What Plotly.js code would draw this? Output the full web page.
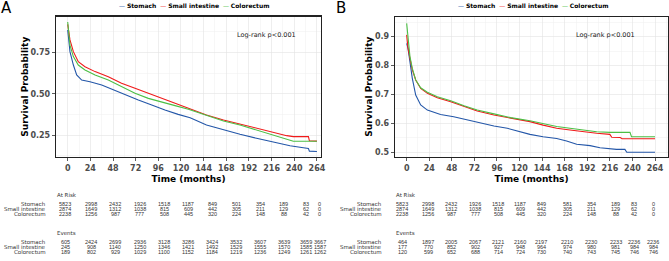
<!DOCTYPE html>
<html>
<head>
<meta charset="utf-8">
<script src="https://cdn.plot.ly/plotly-3.0.1.min.js"></script>
<style>html,body{margin:0;padding:0;background:#fff;}#chart{width:669px;height:261px;}</style>
</head>
<body>
<div id="chart"></div>
<script>
// ---- Data ----
var groups = ["Stomach", "Small intestine", "Colorectum"];
var colors = ["#2356A8", "#F01A1A", "#4CBF45"];

// Panel A
var tA_stomach = [0,2.4,6,9.5,14.8,23.6,36,48.3,60.7,74.8,89,103,117,129.7,147,165,182.5,200,218,235.5,249.6,255,256,264];
var sA_stomach = [0.886,0.755,0.674,0.614,0.583,0.573,0.553,0.523,0.492,0.462,0.432,0.401,0.375,0.355,0.31,0.28,0.254,0.23,0.206,0.185,0.173,0.168,0.152,0.15];
var tA_small = [0,2.4,6,11.2,18.3,29,43,57,71.3,85.4,99.6,113.7,127.8,147,165,182.5,200,218,232,239,255,256,264];
var sA_small = [0.92,0.826,0.755,0.694,0.664,0.634,0.603,0.563,0.533,0.503,0.472,0.442,0.412,0.371,0.341,0.315,0.29,0.266,0.246,0.24,0.24,0.215,0.213];
var tA_colo = [0,2.4,6,11.2,18.3,29,43,57,71.3,85.4,99.6,113.7,127.8,147,165,182.5,200,218,235.5,239,264];
var sA_colo = [0.935,0.795,0.725,0.674,0.644,0.614,0.583,0.543,0.503,0.472,0.448,0.428,0.406,0.371,0.335,0.311,0.281,0.25,0.22,0.212,0.212];

// Panel B
var tB_stomach = [0,1.4,3.5,6,9.6,14.9,22,36,50,64.4,78.7,92.8,107,121,131,145,159.5,170,180.7,195,205.5,223,232,234,264];
var sB_stomach = [0.877,0.86,0.813,0.756,0.698,0.664,0.646,0.631,0.623,0.612,0.60,0.591,0.583,0.571,0.562,0.554,0.548,0.539,0.528,0.523,0.516,0.51,0.51,0.50,0.50];
var tB_small = [0,1.4,3.5,6,9.6,14.9,22,32.6,46.8,61,75,92.8,110.6,131,145,159.5,173.6,187.8,202,216,218,227,229,264];
var sB_small = [0.906,0.86,0.825,0.785,0.75,0.721,0.704,0.689,0.675,0.658,0.643,0.629,0.618,0.606,0.594,0.583,0.577,0.571,0.566,0.562,0.552,0.551,0.547,0.547];
var tB_colo = [0,1.4,3.5,6,9.6,14.9,22,32.6,46.8,61,75,92.8,110.6,131,145,159.5,173.6,187.8,202,216,237.4,239,264];
var sB_colo = [0.946,0.906,0.831,0.79,0.75,0.723,0.708,0.692,0.678,0.661,0.646,0.633,0.62,0.609,0.60,0.589,0.583,0.577,0.571,0.569,0.569,0.554,0.554];

// Risk tables
var tickTimes = [0,24,48,72,96,120,144,168,192,216,240,264];
var atRiskA = [
  [5823,2998,2432,1926,1518,1187,849,501,354,189,83,0],
  [2874,1649,1312,1038,815,609,442,305,211,129,62,0],
  [2238,1256,987,777,508,445,320,224,148,88,42,0]
];
var eventsA = [
  [605,2424,2699,2936,3128,3286,3424,3532,3607,3639,3659,3667],
  [245,908,1140,1250,1346,1421,1492,1529,1555,1570,1585,1587],
  [189,802,929,1029,1100,1152,1184,1219,1236,1249,1261,1262]
];
var atRiskB = [
  [5823,2998,2432,1926,1518,1187,849,581,354,189,83,0],
  [2874,1649,1312,1038,815,609,442,305,211,129,62,0],
  [2238,1256,987,777,508,445,320,224,148,88,42,0]
];
var eventsB = [
  [464,1897,2005,2067,2121,2160,2197,2210,2230,2233,2236,2236],
  [177,770,852,902,927,948,964,974,980,981,984,984],
  [120,599,652,688,714,724,730,740,743,745,746,746]
];

// ---- Layout helpers ----
var W = 669, H = 261;
function px(x){ return x / W; }
function py(y){ return 1 - y / H; }
var FONT = "DejaVu Sans, sans-serif";
var NUMFONT = "Liberation Sans Narrow, Liberation Sans, Arial, sans-serif";

var traces = [];
function addTraces(ts, ss, xa, ya){
  for (var i = 0; i < 3; i++){
    traces.push({
      x: ts[i], y: ss[i], type: "scatter", mode: "lines",
      name: groups[i], xaxis: xa, yaxis: ya, showlegend: false,
      line: {color: colors[i], width: 1.1, shape: "linear"},
      hoverinfo: "skip"
    });
  }
}
addTraces([tA_stomach, tA_small, tA_colo], [sA_stomach, sA_small, sA_colo], "x", "y");
addTraces([tB_stomach, tB_small, tB_colo], [sB_stomach, sB_small, sB_colo], "x2", "y2");

function xAxis(domain, range){
  return {
    domain: domain, range: range, tickmode: "array", tickvals: tickTimes,
    ticktext: tickTimes.map(String),
    showgrid: true, gridcolor: "#e3e3e3", gridwidth: 0.6,
    minor: {tickmode: "array", tickvals: tickTimes.map(function(t){return t+12;}), showgrid: true, gridcolor: "#f0f0f0", gridwidth: 0.5, ticks: ""},
    zeroline: false, showline: true, mirror: true, linecolor: "#222", linewidth: 1.2,
    ticks: "outside", ticklen: 3, tickcolor: "#333", tickwidth: 0.8,
    tickfont: {family: FONT, size: 8, color: "#4d4d4d", weight: "bold"},
    title: {text: "<b>Time (months)</b>", font: {family: FONT, size: 9, color: "#000"}, standoff: 4},
    fixedrange: true
  };
}
function yAxis(domain, range, dtick, fmt, anchor){
  return {
    domain: domain, range: range, dtick: dtick, tick0: 0, tickformat: fmt,
    showgrid: true, gridcolor: "#e3e3e3", gridwidth: 0.6,
    minor: {dtick: dtick/2, tick0: 0, showgrid: true, gridcolor: "#f0f0f0", gridwidth: 0.5, ticks: ""},
    zeroline: false, showline: true, mirror: true, linecolor: "#222", linewidth: 1.2,
    ticks: "outside", ticklen: 3, tickcolor: "#333", tickwidth: 0.8,
    tickfont: {family: FONT, size: 8, color: "#4d4d4d", weight: "bold"},
    title: {text: "<b>Survival Probability</b>", font: {family: FONT, size: 9, color: "#000"}, standoff: 0},
    anchor: anchor, fixedrange: true
  };
}

var annotations = [];
function ann(text, x, y, opts){
  var a = {text: text, x: px(x), y: py(y), xref: "paper", yref: "paper", showarrow: false,
    xanchor: "center", yanchor: "middle", font: {family: FONT, size: 5.5, color: "#333"}};
  for (var k in opts) a[k] = opts[k];
  annotations.push(a);
}

// panel letters
ann("A", 6, 8, {font: {family: FONT, size: 15, color: "#000"}});
ann("B", 341, 8, {font: {family: FONT, size: 15, color: "#000"}});

// legends (drawn as text rows)
function legendRow(cx){
  var parts = [];
  for (var i = 0; i < 3; i++){
    parts.push('<span style="color:' + colors[i] + '">—</span> <b>' + groups[i] + '</b>');
  }
  ann(parts.join("  "), cx, 5, {font: {family: FONT, size: 6, color: "#000"}});
}
legendRow(194);
legendRow(533);

// log-rank text
ann("Log-rank p<0.001", 266, 35, {font: {family: FONT, size: 6.5, color: "#222"}});
ann("Log-rank p<0.001", 605, 35, {font: {family: FONT, size: 6.5, color: "#222"}});

// risk tables
var colsA = [65.3,91.3,115.3,139.7,164.3,188,212,236,260,283.7,306,319.5];
var colsB = [402,428,451,475,498,520,541.3,567,591.3,615.7,634.3,653.3];
var numFont = {family: NUMFONT, size: 5.5, color: "#333"};
function table(cols, labelRight, titleLeft, atRisk, events){
  ann("At Risk", titleLeft, 195, {xanchor: "left"});
  ann("Events", titleLeft, 233, {xanchor: "left"});
  var rowsAR = [204, 209, 214], rowsEv = [242, 247, 252];
  for (var g = 0; g < 3; g++){
    ann(groups[g], labelRight, rowsAR[g], {xanchor: "right"});
    ann(groups[g], labelRight, rowsEv[g], {xanchor: "right"});
    for (var c = 0; c < cols.length; c++){
      ann(String(atRisk[g][c]), cols[c], rowsAR[g], {font: numFont});
      ann(String(events[g][c]), cols[c], rowsEv[g], {font: numFont});
    }
  }
}
table(colsA, 48, 55, atRiskA, eventsA);
table(colsB, 384, 394, atRiskB, eventsB);

var layout = {
  width: W, height: H,
  margin: {l: 0, r: 0, t: 0, b: 0},
  paper_bgcolor: "#fff", plot_bgcolor: "#fff",
  showlegend: false,
  font: {family: FONT},
  xaxis: xAxis([px(56), px(321)], [-12.4, 268.3]),
  yaxis: yAxis([py(157), py(16.5)], [0.1167, 0.968], 0.25, ".2f", "x"),
  xaxis2: xAxis([px(395), px(668)], [-12.4, 277.8]),
  yaxis2: yAxis([py(156.7), py(16.7)], [0.4848, 0.969], 0.1, ".1f", "x2"),
  annotations: annotations
};
layout.xaxis.anchor = "y";
layout.xaxis2.anchor = "y2";

Plotly.newPlot("chart", traces, layout, {staticPlot: true, displayModeBar: false});
</script>
</body>
</html>
